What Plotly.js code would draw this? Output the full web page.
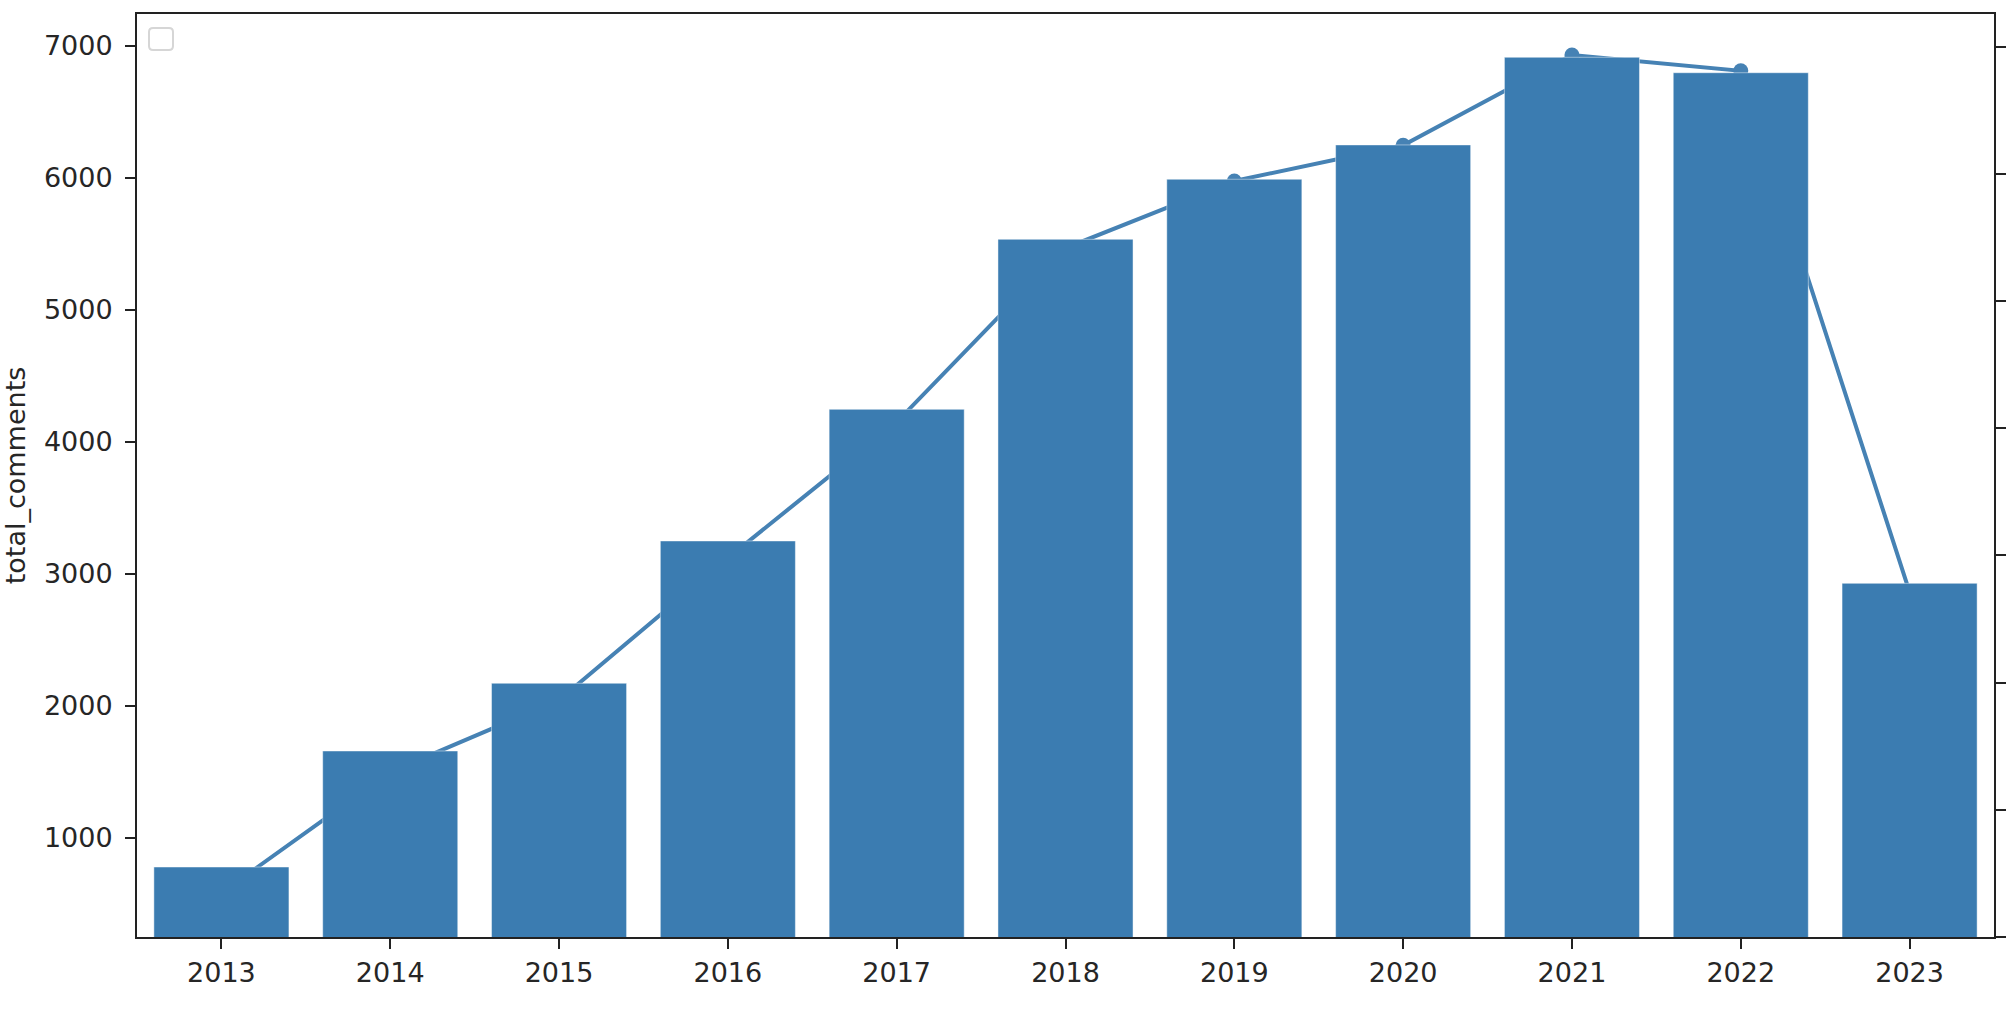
<!DOCTYPE html>
<html>
<head>
<meta charset="utf-8">
<script src="https://cdn.plot.ly/plotly-3.0.1.min.js"></script>
<style>
  html, body { margin: 0; padding: 0; background: #fff; }
  #chart { width: 2016px; height: 1018px; }
</style>
</head>
<body>
<div id="chart"></div>
<script>
// ---- data ----
const years = ["2013", "2014", "2015", "2016", "2017", "2018", "2019", "2020", "2021", "2022", "2023"];
const totalComments = [778, 1657, 2170, 3248, 4245, 5533, 5988, 6248, 6912, 6795, 2927];
// line series on the twin (right) axis, whose labels are cut off in the reference
const lineSeries = [346, 1297, 1863, 2980, 4049, 5417, 5944, 6225, 6935, 6810, 2712];
const leftTicks = [1000, 2000, 3000, 4000, 5000, 6000, 7000];
const rightTicks = [0, 1000, 2000, 3000, 4000, 5000, 6000, 7000];

const barColor = "#3b7cb1";
const lineColor = "#4682b4";
const font = { family: "DejaVu Sans, sans-serif", size: 27, color: "#262626" };

const lineTrace = {
  type: "scatter",
  mode: "lines+markers",
  x: years,
  y: lineSeries,
  xaxis: "x",
  yaxis: "y",
  line: { color: lineColor, width: 4 },
  marker: { color: lineColor, size: 15 },
  showlegend: false,
  hoverinfo: "x+y"
};

const barTrace = {
  type: "bar",
  x: years,
  y: totalComments,
  xaxis: "x",
  yaxis: "y2",
  width: 0.8,
  marker: { color: barColor, line: { color: "rgba(255,255,255,0.45)", width: 1 } },
  showlegend: false,
  hoverinfo: "x+y"
};

const L = 137, R = 1994, T = 14, B = 937;
const pw = R - L, ph = B - T;
function px(x) { return (x - L) / pw; }
function py(y) { return (B - y) / ph; }
// empty legend frame (rounded)
const bx0 = px(149), bx1 = px(173), by0 = py(50), by1 = py(28);
const rx = 4 / pw, ry = 4 / ph;
const legendPath =
  `M ${bx0 + rx} ${by0} L ${bx1 - rx} ${by0} Q ${bx1} ${by0} ${bx1} ${by0 + ry} ` +
  `L ${bx1} ${by1 - ry} Q ${bx1} ${by1} ${bx1 - rx} ${by1} ` +
  `L ${bx0 + rx} ${by1} Q ${bx0} ${by1} ${bx0} ${by1 - ry} ` +
  `L ${bx0} ${by0 + ry} Q ${bx0} ${by0} ${bx0 + rx} ${by0} Z`;

const layout = {
  width: 2016,
  height: 1018,
  margin: { l: L, r: 2016 - R, t: T, b: 1018 - B, pad: 0 },
  paper_bgcolor: "#fff",
  plot_bgcolor: "#fff",
  font: font,
  showlegend: false,
  bargap: 0.2,
  xaxis: {
    type: "category",
    range: [-0.5, 10.5],
    showgrid: false,
    zeroline: false,
    showline: true,
    mirror: true,
    linecolor: "#222",
    linewidth: 2,
    ticks: "outside",
    ticklen: 10,
    tickwidth: 2,
    tickcolor: "#222",
    tickfont: font,
    ticklabelstandoff: 1
  },
  yaxis: {
    side: "right",
    range: [0, 7257],
    tickvals: rightTicks,
    showticklabels: false,
    showgrid: false,
    zeroline: false,
    showline: true,
    linecolor: "#222",
    linewidth: 2,
    ticks: "outside",
    ticklen: 10,
    tickwidth: 2,
    tickcolor: "#222"
  },
  yaxis2: {
    overlaying: "y",
    side: "left",
    range: [248, 7240],
    tickvals: leftTicks,
    ticktext: leftTicks.map(String),
    showgrid: false,
    zeroline: false,
    showline: true,
    linecolor: "#222",
    linewidth: 2,
    ticks: "outside",
    ticklen: 10,
    tickwidth: 2,
    tickcolor: "#222",
    tickfont: font,
    ticklabelstandoff: 7,
    title: { text: "total_comments", font: font, standoff: 12 }
  },
  shapes: [{
    type: "path",
    xref: "paper",
    yref: "paper",
    path: legendPath,
    line: { color: "#d6d6d6", width: 2 },
    fillcolor: "rgba(255,255,255,0.8)",
    layer: "above"
  }]
};

Plotly.newPlot("chart", [lineTrace, barTrace], layout, { displayModeBar: false, staticPlot: true });
</script>
</body>
</html>
